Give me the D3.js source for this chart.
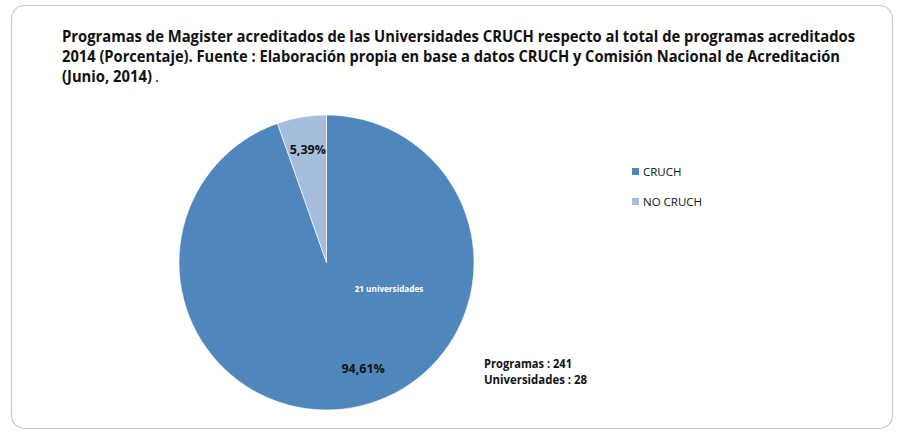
<!DOCTYPE html>
<html>
<head>
<meta charset="utf-8">
<script src="https://cdn.jsdelivr.net/npm/d3@7"></script>
<style>
  body { margin: 0; background: #fff; }
  svg text { font-family: 'Open Sans', 'Noto Sans', sans-serif; }
</style>
</head>
<body>
<div id="chart"></div>
<script>
// data
let categories = ['CRUCH', 'NO CRUCH']
let percents = [94.61, 5.39]
let percentLabels = ['94,61%', '5,39%']
let colors = ['#4F87BD', '#A6BDDC']
let titleLines = [
	'Programas de Magister acreditados de las Universidades CRUCH respecto al total de programas acreditados',
	'2014 (Porcentaje). Fuente : Elaboración propia en base a datos CRUCH y Comisión Nacional de Acreditación',
	'(Junio, 2014)'
]
let notes = ['Programas : 241', 'Universidades : 28']
let innerNote = '21 universidades'

let W = 904
let H = 437

let svg = d3
	.select('#chart')
	.append('svg')
	.attr('width', W)
	.attr('height', H)

// frame
svg
	.append('rect')
	.attr('x', 11.5)
	.attr('y', 5.5)
	.attr('width', 881)
	.attr('height', 423)
	.attr('rx', 13)
	.attr('fill', '#fff')
	.attr('stroke', '#c9c9c9')
	.attr('stroke-width', 1.2)

// title, squeezed to the widths of the original lines
let titleY = [42, 62, 82]
let titleW = [793, 778]
let scale = 1
titleLines.forEach((t, i) => {
	let el = svg
		.append('text')
		.attr('x', 62)
		.attr('y', titleY[i])
		.attr('font-size', 15.5)
		.attr('fill', '#111')
	let main = el.append('tspan').attr('font-weight', 'bold').text(t)
	let natural = main.node().getComputedTextLength()
	if (i === 0) scale = titleW[0] / natural
	let target = i < 2 ? titleW[i] : natural * scale
	main.attr('textLength', target).attr('lengthAdjust', 'spacingAndGlyphs')
	// the last line ends with a plain full stop
	if (i === 2) {
		svg
			.append('text')
			.attr('x', 62 + target + 3)
			.attr('y', titleY[i])
			.attr('font-size', 15.5)
			.attr('fill', '#111')
			.text('.')
	}
})

// pie
let cx = 326.5
let cy = 262.5
let r = 147.5

let pie = d3.pie().sort(null).value(d => d)
let arc = d3.arc().innerRadius(0).outerRadius(r)
let arcs = pie(percents)

let g = svg.append('g').attr('transform', `translate(${cx},${cy})`)

g.selectAll('path')
	.data(arcs)
	.enter()
	.append('path')
	.attr('d', arc)
	.attr('fill', (d, i) => colors[i])
	.attr('stroke', '#fff')
	.attr('stroke-width', 0.6)

// percent labels, nudged from the centroid the way the original sits
let labelArc = d3.arc().innerRadius(r * 0.75).outerRadius(r * 0.75)
let nudge = [[18, -2.5], [0, -3]]
g.selectAll('text.pct')
	.data(arcs)
	.enter()
	.append('text')
	.attr('class', 'pct')
	.attr('transform', (d, i) => {
		let c = labelArc.centroid(d)
		return `translate(${c[0] + nudge[i][0]},${c[1] + nudge[i][1] + 4})`
	})
	.attr('text-anchor', 'middle')
	.attr('font-size', 12.5)
	.attr('font-weight', 'bold')
	.attr('fill', '#111')
	.text((d, i) => percentLabels[i])

g.append('text')
	.attr('x', 389 - cx)
	.attr('y', 292 - cy)
	.attr('text-anchor', 'middle')
	.attr('font-size', 8.2)
	.attr('font-weight', 'bold')
	.attr('fill', '#fff')
	.text(innerNote)

// notes at the lower right of the pie
let noteW = [88, 103]
notes.forEach((t, i) => {
	svg
		.append('text')
		.attr('x', 484)
		.attr('y', 368 + i * 16)
		.attr('font-size', 12.5)
		.attr('font-weight', 'bold')
		.attr('fill', '#111')
		.attr('textLength', noteW[i])
		.attr('lengthAdjust', 'spacingAndGlyphs')
		.text(t)
})

// legend
let legend = svg
	.selectAll('g.legend')
	.data(categories)
	.enter()
	.append('g')
	.attr('class', 'legend')
	.attr('transform', (d, i) => `translate(632,${168 + i * 30})`)

legend
	.append('rect')
	.attr('width', 7)
	.attr('height', 7)
	.attr('fill', (d, i) => colors[i])

legend
	.append('text')
	.attr('x', 11)
	.attr('y', 8)
	.attr('font-size', 11.5)
	.attr('fill', '#111')
	.text(d => d)
</script>
</body>
</html>
